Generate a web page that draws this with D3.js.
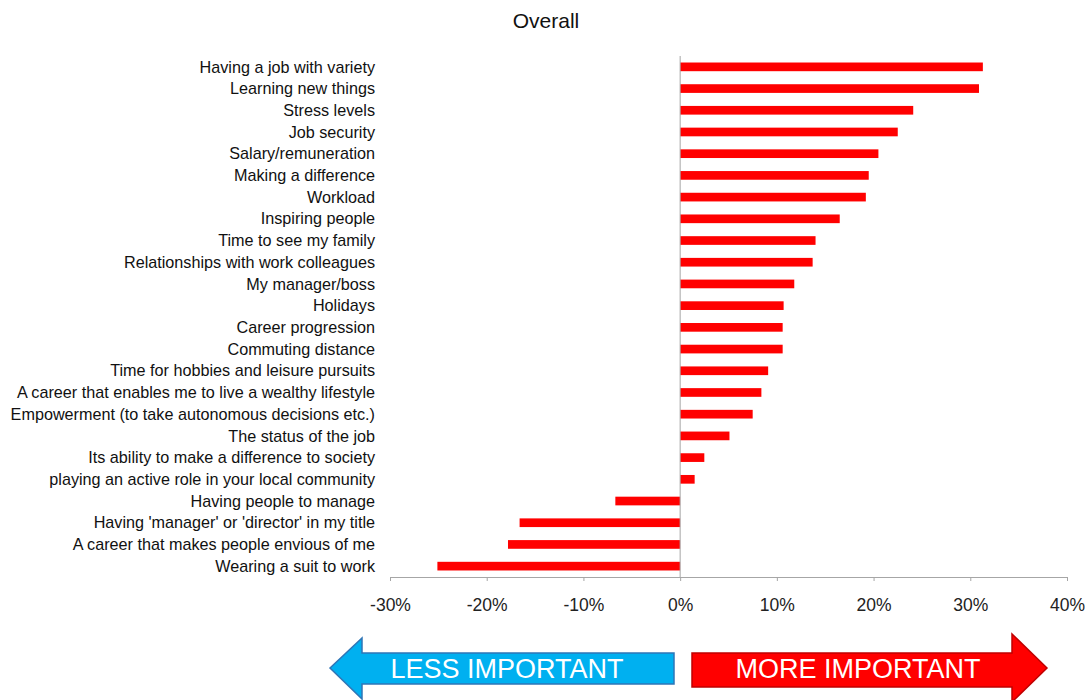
<!DOCTYPE html>
<html>
<head>
<meta charset="utf-8">
<script src="https://cdn.jsdelivr.net/npm/d3@7"></script>
<style>
  body { margin: 0; background: #fff; }
  svg { display: block; font-family: "Liberation Sans", Arial, sans-serif; }
</style>
</head>
<body>
<div id="chart"></div>
<script>
// survey factors, most important first
var factors = [
  "Having a job with variety",
  "Learning new things",
  "Stress levels",
  "Job security",
  "Salary/remuneration",
  "Making a difference",
  "Workload",
  "Inspiring people",
  "Time to see my family",
  "Relationships with work colleagues",
  "My manager/boss",
  "Holidays",
  "Career progression",
  "Commuting distance",
  "Time for hobbies and leisure pursuits",
  "A career that enables me to live a wealthy lifestyle",
  "Empowerment (to take autonomous decisions etc.)",
  "The status of the job",
  "Its ability to make a difference to society",
  "playing an active role in your local community",
  "Having people to manage",
  "Having 'manager' or 'director' in my title",
  "A career that makes people envious of me",
  "Wearing a suit to work"
];
// net change in importance
var netScore = [
  0.313, 0.309, 0.241, 0.225, 0.205, 0.195, 0.192, 0.165, 0.140, 0.137,
  0.118, 0.107, 0.106, 0.106, 0.091, 0.084, 0.075, 0.051, 0.025, 0.015,
  -0.067, -0.166, -0.178, -0.251
];
var tickValues = [-0.3, -0.2, -0.1, 0, 0.1, 0.2, 0.3, 0.4];
var tickLabels = ["-30%", "-20%", "-10%", "0%", "10%", "20%", "30%", "40%"];

var rows = factors.map(function(f, i){ return {name: f, value: netScore[i]}; });

var width = 1085, height = 700;

var svg = d3.select("#chart")
  .append("svg")
    .attr("width", width)
    .attr("height", height);

var x = d3.scaleLinear()
  .domain([-0.3, 0.4])
  .range([390, 1067]);

var y = d3.scaleBand()
  .domain(factors)
  .range([56, 577])
  .paddingInner(0.6)
  .paddingOuter(0.3);

// title
svg.append("text")
  .attr("x", 546)
  .attr("y", 28)
  .attr("text-anchor", "middle")
  .style("font-size", "21px")
  .style("fill", "#111")
  .text("Overall");

// x axis
var xAxis = svg.append("g")
  .attr("transform", "translate(0,577)")
  .call(d3.axisBottom(x)
    .tickValues(tickValues)
    .tickFormat(function(d, i){ return tickLabels[i]; })
    .tickSizeInner(4)
    .tickSizeOuter(0)
    .tickPadding(17.5));
xAxis.select(".domain").attr("stroke", "#a6a6a6");
xAxis.selectAll(".tick line").attr("stroke", "#a6a6a6");
xAxis.selectAll(".tick text")
  .style("font-family", "'Liberation Sans', Arial, sans-serif")
  .style("font-size", "17.5px")
  .style("fill", "#222");

// bars
svg.append("g")
  .selectAll("rect")
  .data(rows)
  .enter()
  .append("rect")
    .attr("x", function(d){ return x(Math.min(0, d.value)); })
    .attr("y", function(d){ return y(d.name); })
    .attr("width", function(d){ return Math.abs(x(d.value) - x(0)); })
    .attr("height", y.bandwidth())
    .style("fill", "#ff0000");

// zero line
svg.append("line")
  .attr("x1", x(0)).attr("x2", x(0))
  .attr("y1", 56).attr("y2", 577)
  .attr("stroke", "#a6a6a6");

// category labels
svg.append("g")
  .selectAll("text")
  .data(rows)
  .enter()
  .append("text")
    .attr("x", 375)
    .attr("y", function(d){ return y(d.name) + y.bandwidth() / 2; })
    .attr("dy", "0.35em")
    .attr("text-anchor", "end")
    .style("font-size", "16.2px")
    .style("fill", "#111")
    .text(function(d){ return d.name; });

// direction arrows
var cy = 668;
var lessPts = [[330, cy], [362, 638], [362, 653], [674, 653], [674, 684], [362, 684], [362, 699]];
var morePts = [[1047, cy], [1012, 634], [1012, 653], [692, 653], [692, 687], [1012, 687], [1012, 702]];

svg.append("polygon")
  .attr("points", lessPts.map(function(p){ return p.join(","); }).join(" "))
  .attr("fill", "#00b0f0")
  .attr("stroke", "#2e75b6")
  .attr("stroke-width", 1.5);

svg.append("polygon")
  .attr("points", morePts.map(function(p){ return p.join(","); }).join(" "))
  .attr("fill", "#ff0000")
  .attr("stroke", "#c00000")
  .attr("stroke-width", 1.5);

svg.append("text")
  .attr("x", 507)
  .attr("y", cy)
  .attr("dy", "0.36em")
  .attr("text-anchor", "middle")
  .style("font-size", "27px")
  .style("fill", "#fff")
  .text("LESS IMPORTANT");

svg.append("text")
  .attr("x", 858)
  .attr("y", cy)
  .attr("dy", "0.36em")
  .attr("text-anchor", "middle")
  .style("font-size", "27px")
  .style("fill", "#fff")
  .text("MORE IMPORTANT");
</script>
</body>
</html>
